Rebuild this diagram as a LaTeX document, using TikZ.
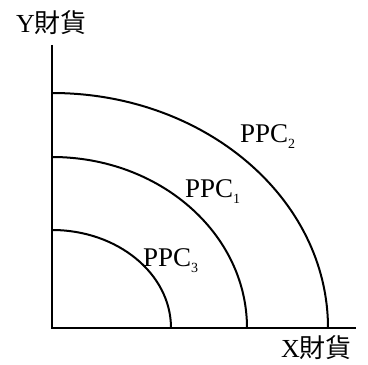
\documentclass[tikz,border=0pt]{standalone}
\usepackage{fontspec}
\setmainfont{Liberation Serif}
\newfontfamily\cjk{Noto Sans CJK TC}
\newcommand{\mysub}[1]{\raisebox{-6pt}{\fontsize{14}{14}\selectfont #1}}
\begin{document}
\begin{tikzpicture}[x=1pt,y=1pt,
  curve/.style={line width=2pt},
  axisline/.style={line width=1.6pt},
  lbl/.style={inner sep=0pt,anchor=base west,font=\fontsize{27}{27}\selectfont},
  axlbl/.style={inner sep=0pt,anchor=base west,font=\fontsize{26}{26}\selectfont}]
\useasboundingbox (0,0) rectangle (368,365);
\coordinate (O) at (52,37);
\coordinate (ytop) at (52,320);
\coordinate (xend) at (356,37);
\draw[axisline] (ytop) -- (O) -- (xend);
\coordinate (p2s) at (52,272);
\coordinate (p1s) at (52,208);
\coordinate (p3s) at (52,135);
\draw[curve] (p2s) arc[start angle=90,end angle=0,x radius=276,y radius=235];
\draw[curve] (p1s) arc[start angle=90,end angle=0,x radius=195,y radius=171];
\draw[curve] (p3s) arc[start angle=90,end angle=0,x radius=119,y radius=98];
\node[lbl] (l2) at (240,222) {PPC\mysub{2}};
\node[lbl] (l1) at (185,167) {PPC\mysub{1}};
\node[lbl] (l3) at (143,98) {PPC\mysub{3}};
\node[axlbl] (ylab) at (16,332) {Y{\cjk 財貨}};
\node[axlbl] (xlab) at (281,7) {X{\cjk 財貨}};
\end{tikzpicture}
\end{document}
